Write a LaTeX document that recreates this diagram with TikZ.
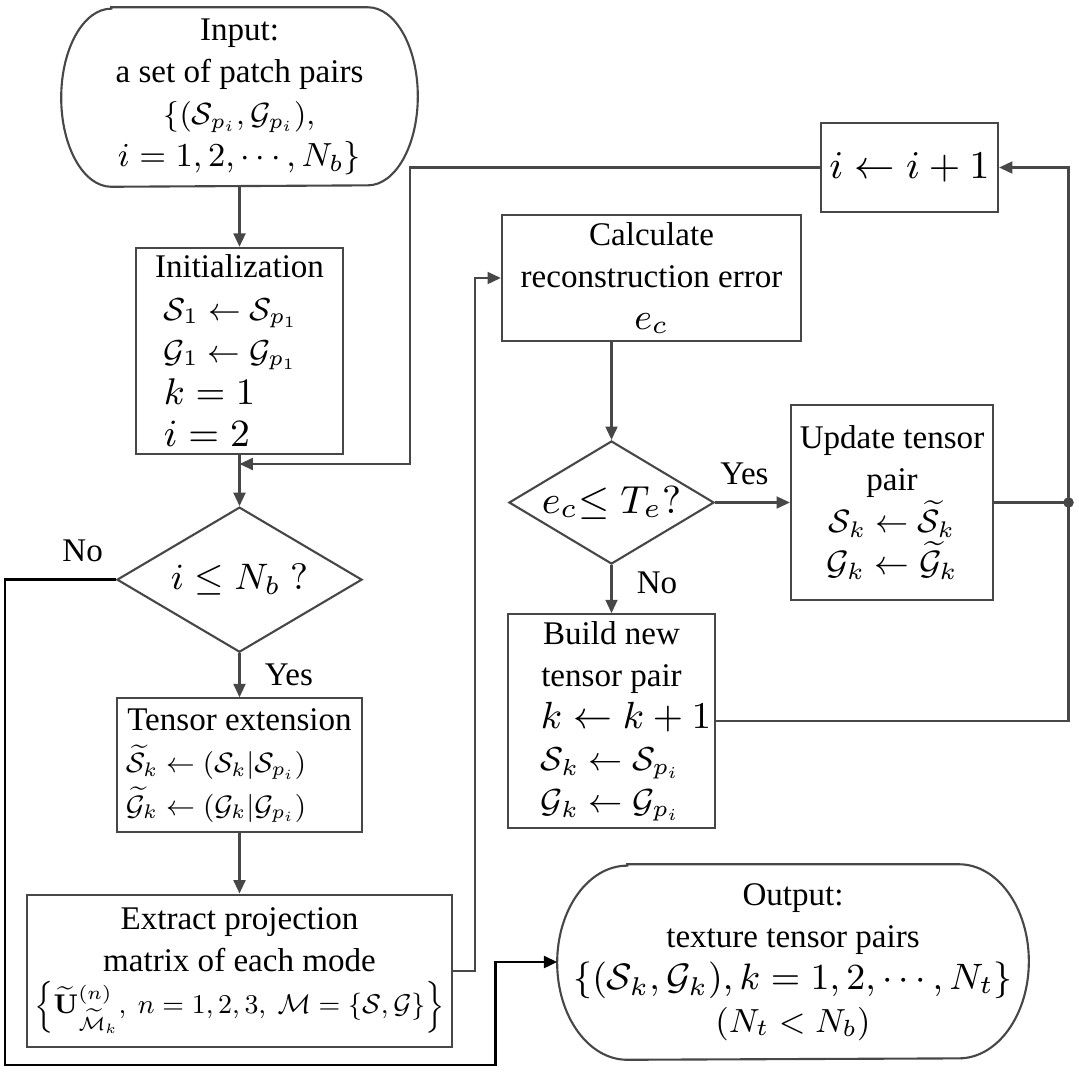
\RequirePackage{fix-cm}
\documentclass[tikz,border=0pt]{standalone}
\usepackage[no-math]{fontspec}
\setmainfont{Liberation Serif}
\usepackage{graphicx}
\usetikzlibrary{positioning, arrows.meta, shapes.geometric}
\definecolor{linegray}{HTML}{474747}
\newcommand{\mfit}[2]{\resizebox{#1}{!}{$#2$}}

\begin{document}
\begin{tikzpicture}[x=0.01cm, y=-0.01cm,
    every node/.style={font=\fontsize{9.4pt}{12pt}\selectfont},
    box/.style={rectangle, draw=linegray, line width=0.6pt, align=center, inner sep=2pt},
    decision/.style={diamond, aspect=1.7, draw=linegray, line width=0.6pt, inner sep=0pt},
    terminal/.style={rectangle, align=center, inner sep=0pt},
    link/.style={draw=linegray, line width=0.6pt},
    flow/.style={-{Triangle[length=3.8pt, width=3.4pt]}, draw=linegray, line width=0.6pt},
    noflow/.style={-{Triangle[length=3.8pt, width=3.4pt]}, draw=black, line width=0.8pt}]

  \useasboundingbox (0,0) rectangle (1079,1072);

  % left column
  \node[terminal, minimum width=3.55cm, minimum height=1.78cm] (input) at (239.5,97)
    {Input:\\a set of patch pairs\\
     \mfit{1.51cm}{\{(\mathcal{S}_{p_i},\mathcal{G}_{p_i}),}\\
     \mfit{2.43cm}{i=1,2,\cdots,N_b\}}};
  \node[box, minimum width=2.07cm, minimum height=2.06cm, below=0.6cm of input] (init)
    {Initialization\\
     \makebox[1.51cm][l]{\mfit{1.34cm}{\mathcal{S}_1\leftarrow\mathcal{S}_{p_1}}}\\
     \makebox[1.51cm][l]{\mfit{1.33cm}{\mathcal{G}_1\leftarrow\mathcal{G}_{p_1}}}\\
     \makebox[1.51cm][l]{\mfit{0.91cm}{k=1}}\\
     \makebox[1.51cm][l]{\mfit{0.86cm}{i=2}}};
  \node[decision, minimum width=2.45cm, minimum height=1.45cm, below=0.51cm of init] (dia1)
    {\mfit{1.37cm}{i\leq N_b\ ?}};
  \node[box, minimum width=2.45cm, minimum height=1.34cm, below=0.44cm of dia1] (tensor)
    {Tensor extension\\
     \makebox[2.27cm][l]{\mfit{1.8cm}{\widetilde{\mathcal{S}}_k\leftarrow(\mathcal{S}_k|\mathcal{S}_{p_i})}}\\
     \makebox[2.27cm][l]{\mfit{1.8cm}{\widetilde{\mathcal{G}}_k\leftarrow(\mathcal{G}_k|\mathcal{G}_{p_i})}}};
  \node[box, minimum width=4.17cm, minimum height=1.52cm, below=0.6cm of tensor] (extract)
    {Extract projection\\matrix of each mode\\
     \mfit{4.1cm}{\left\{\widetilde{\mathbf{U}}^{(n)}_{\widetilde{\mathcal{M}}_k},\ n=1,2,3,\ \mathcal{M}=\{\mathcal{S},\mathcal{G}\}\right\}}};

  % right column
  \node[box, minimum width=1.77cm, minimum height=0.89cm] (incr) at (909.5,167.5)
    {\mfit{1.6cm}{i\leftarrow i+1}};
  \node[box, minimum width=2.99cm, minimum height=1.24cm] (calc) at (651.5,278)
    {Calculate\\reconstruction error\\\mfit{0.34cm}{e_c}};
  \node[decision, minimum width=2.05cm, minimum height=1.23cm] (dia2) at (611.5,502.5)
    {\mfit{1.39cm}{e_c{\leq}\;T_e?}};
  \node[box, minimum width=2.02cm, minimum height=1.95cm] (update) at (892,502.5)
    {Update tensor\\pair\\
     \mfit{1.26cm}{\mathcal{S}_k\leftarrow\widetilde{\mathcal{S}}_k}\\
     \mfit{1.31cm}{\mathcal{G}_k\leftarrow\widetilde{\mathcal{G}}_k}};
  \node[box, minimum width=2.07cm, minimum height=2.11cm, below=0.48cm of dia2] (build)
    {Build new\\tensor pair\\
     \makebox[1.41cm][l]{\mfit{1.7cm}{k\leftarrow k+1}}\\
     \makebox[1.41cm][l]{\mfit{1.39cm}{\mathcal{S}_k\leftarrow\mathcal{S}_{p_i}}}\\
     \makebox[1.41cm][l]{\mfit{1.39cm}{\mathcal{G}_k\leftarrow\mathcal{G}_{p_i}}}};
  \node[terminal, minimum width=4.7cm, minimum height=1.94cm] (output) at (793,962)
    {Output:\\texture tensor pairs\\
     \mfit{4.39cm}{\{(\mathcal{S}_k,\mathcal{G}_k),k=1,2,\cdots,N_t\}}\\
     \mfit{1.55cm}{(N_t<N_b)}};

  % stadium outlines
  \draw[link] ([xshift=0.5cm]input.north west) -- ([xshift=-0.5cm]input.north east)
    arc[start angle=90, end angle=-90, x radius=0.5cm, y radius=0.89cm]
    -- ([xshift=0.5cm]input.south west)
    arc[start angle=270, end angle=90, x radius=0.5cm, y radius=0.89cm] -- cycle;
  \draw[link] ([xshift=0.7cm]output.north west) -- ([xshift=-0.7cm]output.north east)
    arc[start angle=90, end angle=-90, x radius=0.7cm, y radius=0.97cm]
    -- ([xshift=0.7cm]output.south west)
    arc[start angle=270, end angle=90, x radius=0.7cm, y radius=0.97cm] -- cycle;

  \coordinate (loop) at (410,464);
  \coordinate (merge) at (init.south |- loop);
  \coordinate (jn) at (1068.5,502.5);
  \coordinate (nocorner) at (5,1065);

  \draw[flow] (input.south) -- (init.north);
  \draw[flow] (init.south) -- (dia1.north);
  \draw[flow] (incr.west) -| (loop) -- (merge);
  \draw[flow] (dia1.south) -- node[right, xshift=0.125cm]{Yes} (tensor.north);
  \draw[flow] (tensor.south) -- (extract.north);
  \draw[flow] (extract.east) -- ++(22,0) |- (calc.west);
  \draw[flow] (dia2.north |- calc.south) -- (dia2.north);
  \draw[flow] (dia2.east) -- node[above, xshift=-0.08cm, yshift=0.045cm]{Yes} (update.west);
  \draw[flow] (dia2.south) -- node[right, xshift=0.125cm, yshift=0.06cm]{No} (build.north);
  \draw[link] (update.east) -- (jn);
  \fill[linegray] (jn) circle[radius=1.5pt];
  \draw[flow] (build.east) -| (jn |- incr.east) -- (incr.east);
  \draw[noflow] (dia1.west) -- node[above, pos=0.3, yshift=0.05cm]{No} (dia1.west -| nocorner)
    -- (nocorner) -| ([xshift=-0.62cm]output.west) -- (output.west);
\end{tikzpicture}
\end{document}
